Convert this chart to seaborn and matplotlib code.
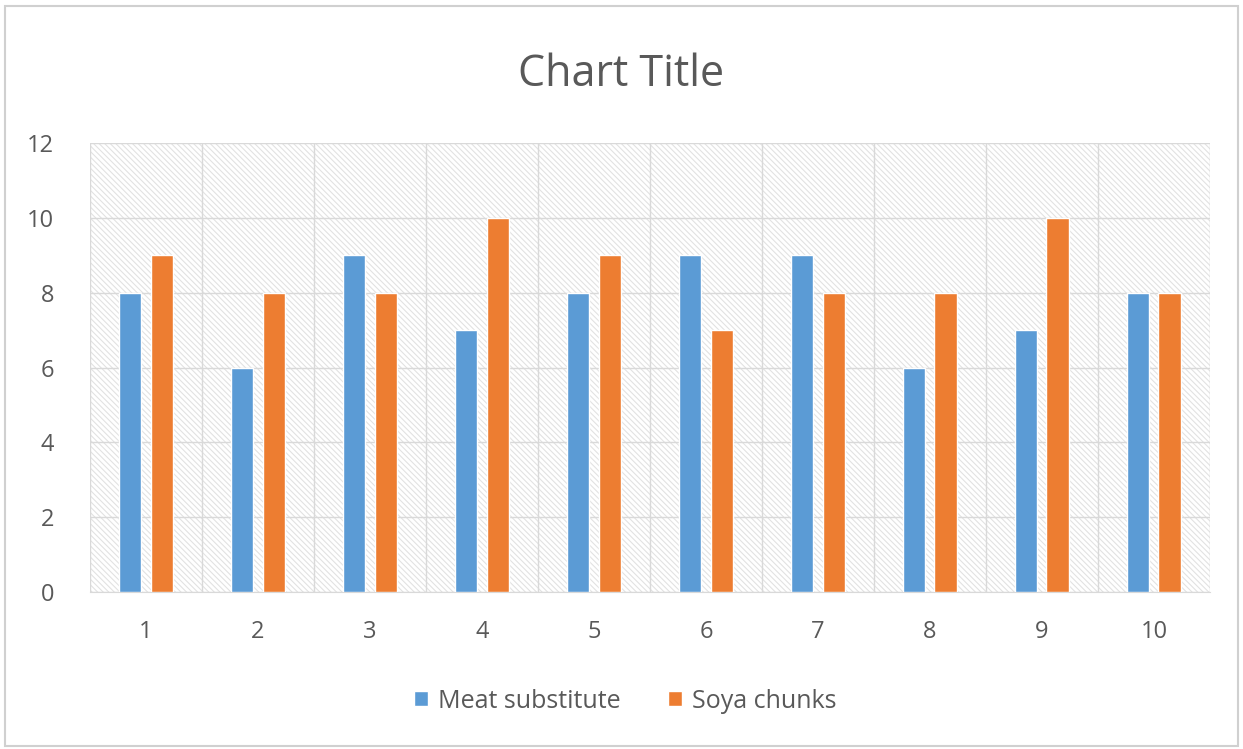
import matplotlib
matplotlib.use("Agg")
import matplotlib.pyplot as plt
import seaborn as sns
import pandas as pd
import numpy as np
from matplotlib.patches import Rectangle

categories = ["1", "2", "3", "4", "5", "6", "7", "8", "9", "10"]
meat_substitute = [8, 6, 9, 7, 8, 9, 9, 6, 7, 8]
soya_chunks = [9, 8, 8, 10, 9, 7, 8, 8, 10, 8]
series_names = ["Meat substitute", "Soya chunks"]
colors = ["#5b9bd5", "#ed7d31"]

df = pd.DataFrame({
    "cat": categories * 2,
    "value": meat_substitute + soya_chunks,
    "series": [series_names[0]] * len(categories) + [series_names[1]] * len(categories),
})

sns.set_style("white")
plt.rcParams["font.family"] = ["Open Sans", "DejaVu Sans"]
plt.rcParams["hatch.linewidth"] = 0.8

fig = plt.figure(figsize=(12.43, 7.49), dpi=100)
ax = fig.add_axes([0.0724, 0.2096, 0.901, 0.5994])

# hatched plot-area background
bg = Rectangle((0, 0), 1, 1, transform=ax.transAxes, facecolor="#ffffff",
               edgecolor="#e2e2e2", hatch="\\\\\\\\\\\\", linewidth=0, zorder=0)
ax.add_patch(bg)

sns.barplot(data=df, x="cat", y="value", hue="series", order=categories,
            hue_order=series_names, palette=colors, width=0.56, gap=0.29,
            saturation=1, ax=ax, zorder=3, legend=True)

ax.set_xlim(-0.5, len(categories) - 0.5)
ax.set_ylim(0, 12)
ax.set_yticks(np.arange(0, 13, 2))
ax.set_xticks(np.arange(-0.5, len(categories), 1), minor=True)
ax.grid(axis="y", which="major", color="#d9d9d9", linewidth=1, zorder=1)
ax.grid(axis="x", which="minor", color="#d9d9d9", linewidth=1, zorder=1)
ax.set_axisbelow(True)
for s in ["top", "right", "left"]:
    ax.spines[s].set_visible(False)
ax.spines["bottom"].set_color("#d9d9d9")
ax.tick_params(axis="both", which="both", length=0, labelsize=17, colors="#595959")
ax.tick_params(axis="x", pad=20)
ax.tick_params(axis="y", pad=26)
ax.set_xlabel("")
ax.set_ylabel("")

fig.suptitle("Chart Title", y=0.93, fontsize=31, color="#595959")

leg = ax.get_legend()
handles, labels = ax.get_legend_handles_labels()
leg.remove()
fig.legend(handles, labels, loc="center", bbox_to_anchor=(0.503, 0.064), ncol=2,
           frameon=False, fontsize=18, labelcolor="#595959", handlelength=0.55,
           handleheight=0.55, handletextpad=0.4, columnspacing=1.9)

# outer border
fig.patches.append(Rectangle((0.004, 0.004), 0.992, 0.988, transform=fig.transFigure,
                             fill=False, edgecolor="#d0d0d0", linewidth=1.5))

fig.savefig("out.png", dpi=100)
